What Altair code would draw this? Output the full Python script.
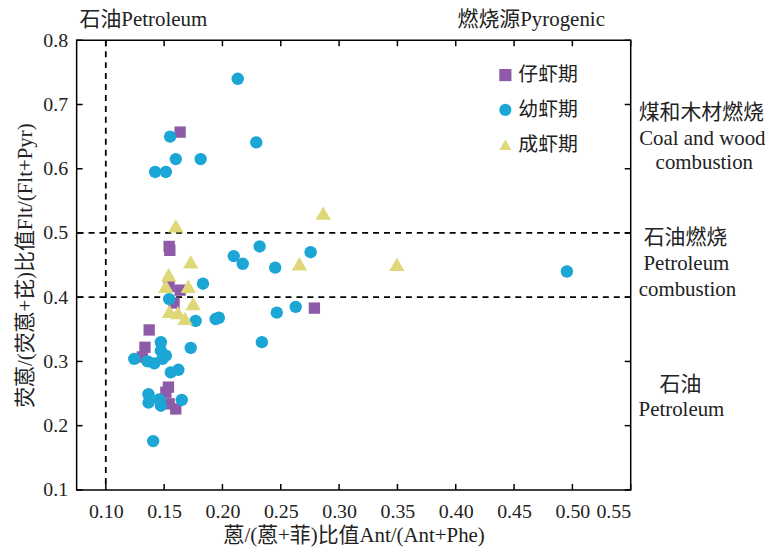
import altair as alt
import pandas as pd

# ---- data ----
fry_x = [0.1637, 0.1543, 0.1549, 0.1543, 0.1637, 0.1585, 0.1372, 0.1336, 0.1313,
         0.1537, 0.1515, 0.1543, 0.1600, 0.2788]
fry_y = [0.657, 0.479, 0.473, 0.417, 0.411, 0.391, 0.349, 0.322, 0.307,
         0.260, 0.252, 0.234, 0.226, 0.383]

juv_x = [0.2131, 0.1551, 0.2290, 0.1600, 0.1813, 0.1423, 0.1515, 0.2319, 0.2097,
         0.2174, 0.2452, 0.2756, 0.2466, 0.2628, 0.2338, 0.1941, 0.1969, 0.4953,
         0.1833, 0.1543, 0.1770, 0.1472, 0.1472, 0.1244, 0.1358, 0.1415, 0.1486,
         0.1515, 0.1557, 0.1622, 0.1366, 0.1366, 0.1458, 0.1472, 0.1651, 0.1406,
         0.1728]
juv_y = [0.740, 0.650, 0.641, 0.615, 0.615, 0.595, 0.595, 0.479, 0.464,
         0.452, 0.446, 0.470, 0.376, 0.385, 0.330, 0.366, 0.368, 0.440,
         0.421, 0.397, 0.363, 0.330, 0.317, 0.304, 0.300, 0.297, 0.304,
         0.309, 0.283, 0.287, 0.249, 0.236, 0.241, 0.231, 0.240, 0.176,
         0.321]

adu_x = [0.1600, 0.2864, 0.1728, 0.1539, 0.1515, 0.1707, 0.1749, 0.1546, 0.1618,
         0.1679, 0.2660, 0.3495]
adu_y = [0.511, 0.531, 0.455, 0.435, 0.417, 0.417, 0.390, 0.378, 0.376,
         0.367, 0.452, 0.451]

groups = ["仔虾期", "幼虾期", "成虾期"]
colors = ["#8D5BA7", "#1BA6D6", "#DFD879"]
shapes = ["square", "circle", "triangle-up"]
sizes = [130, 155, 240]

x_ticks = [0.10, 0.15, 0.20, 0.25, 0.30, 0.35, 0.40, 0.45, 0.50, 0.55]
y_ticks = [0.1, 0.2, 0.3, 0.4, 0.5, 0.6, 0.7, 0.8]
x_domain = [0.075, 0.55]
y_domain = [0.1, 0.8]
h_lines = [0.4, 0.5]
v_lines = [0.10]

FONT = "Liberation Serif, Noto Sans CJK SC"
W, H = 557, 452

xs = alt.Scale(domain=x_domain, nice=False, zero=False)
ys = alt.Scale(domain=y_domain, nice=False, zero=False)

x_enc = alt.X("x:Q", scale=xs,
              axis=alt.Axis(values=x_ticks, format=".2f", title="蒽/(蒽+菲)比值Ant/(Ant+Phe)",
                            ticks=False, domain=False, grid=False, labelPadding=12,
                            titlePadding=3))
y_enc = alt.Y("y:Q", scale=ys,
              axis=alt.Axis(values=y_ticks, format=".1f", title="荧蒽/(荧蒽+芘)比值Flt/(Flt+Pyr)",
                            ticks=False, domain=False, grid=False, labelPadding=9,
                            titlePadding=7))
c_enc = alt.Color("g:N", scale=alt.Scale(domain=groups, range=colors), sort=groups,
                  legend=alt.Legend(title=None, orient="none", legendX=421, legendY=25,
                                    padding=0, labelFontSize=20, labelFont=FONT,
                                    labelColor="#222", symbolSize=150,
                                    rowPadding=15, labelOffset=3))
s_enc = alt.Shape("g:N", scale=alt.Scale(domain=groups, range=shapes), sort=groups)

point_layers = []
for g, xs_, ys_, sz in zip(groups, [fry_x, juv_x, adu_x], [fry_y, juv_y, adu_y], sizes):
    d = pd.DataFrame({"x": xs_, "y": ys_, "g": [g] * len(xs_)})
    point_layers.append(
        alt.Chart(d).mark_point(filled=True, opacity=1, size=sz).encode(
            x=x_enc, y=y_enc, color=c_enc, shape=s_enc))

hdf = pd.DataFrame({"v": h_lines})
vdf = pd.DataFrame({"v": v_lines})
hline = alt.Chart(hdf).mark_rule(color="black", strokeWidth=1.8, strokeDash=[6, 5]).encode(
    y=alt.Y("v:Q", scale=ys))
vline = alt.Chart(vdf).mark_rule(color="black", strokeWidth=1.8, strokeDash=[6, 5]).encode(
    x=alt.X("v:Q", scale=xs))

xt = pd.DataFrame({"v": x_ticks})
yt = pd.DataFrame({"v": y_ticks})
tick_style = dict(color="black", strokeWidth=1.5)
xt_bot = alt.Chart(xt).mark_rule(**tick_style).encode(
    x=alt.X("v:Q", scale=xs), y=alt.value(H), y2=alt.value(H - 6))
xt_top = alt.Chart(xt).mark_rule(**tick_style).encode(
    x=alt.X("v:Q", scale=xs), y=alt.value(0), y2=alt.value(6))
yt_left = alt.Chart(yt).mark_rule(**tick_style).encode(
    y=alt.Y("v:Q", scale=ys), x=alt.value(0), x2=alt.value(6))
yt_right = alt.Chart(yt).mark_rule(**tick_style).encode(
    y=alt.Y("v:Q", scale=ys), x=alt.value(W), x2=alt.value(W - 6))

# annotations
ann = pd.DataFrame({
    "t": ["石油Petroleum", "燃烧源Pyrogenic",
          "煤和木材燃烧", "Coal and wood", "combustion",
          "石油燃烧", "Petroleum", "combustion",
          "石油", "Petroleum"],
    "px": [3, 383, 628, 629, 631, 612, 613, 614, 607, 608],
    "py": [-20, -20, 73, 99, 123, 199, 225, 251, 347, 372],
    "al": ["left", "left", "center", "center", "center", "center", "center", "center",
           "center", "center"],
})
texts = []
for _, r in ann.iterrows():
    texts.append(alt.Chart(pd.DataFrame({"t": [r.t]})).mark_text(
        font=FONT, fontSize=21, color="#222", align=r.al, baseline="middle").encode(
        text="t:N", x=alt.value(int(r.px)), y=alt.value(int(r.py))))

chart = alt.layer(vline, hline, *point_layers, xt_bot, xt_top, yt_left, yt_right,
                  *texts).properties(
    width=W, height=H,
    autosize=alt.AutoSizeParams(type="none"),
    padding={"left": 69, "top": 31, "right": 135, "bottom": 60},
).configure_view(stroke="black", strokeWidth=1.5).configure_axis(
    labelFont=FONT, labelFontSize=20, labelColor="#222",
    titleFont=FONT, titleFontSize=21, titleColor="#222", titleFontWeight="normal",
)

chart.save("out.html", embed_options={"renderer": "svg", "actions": False})
